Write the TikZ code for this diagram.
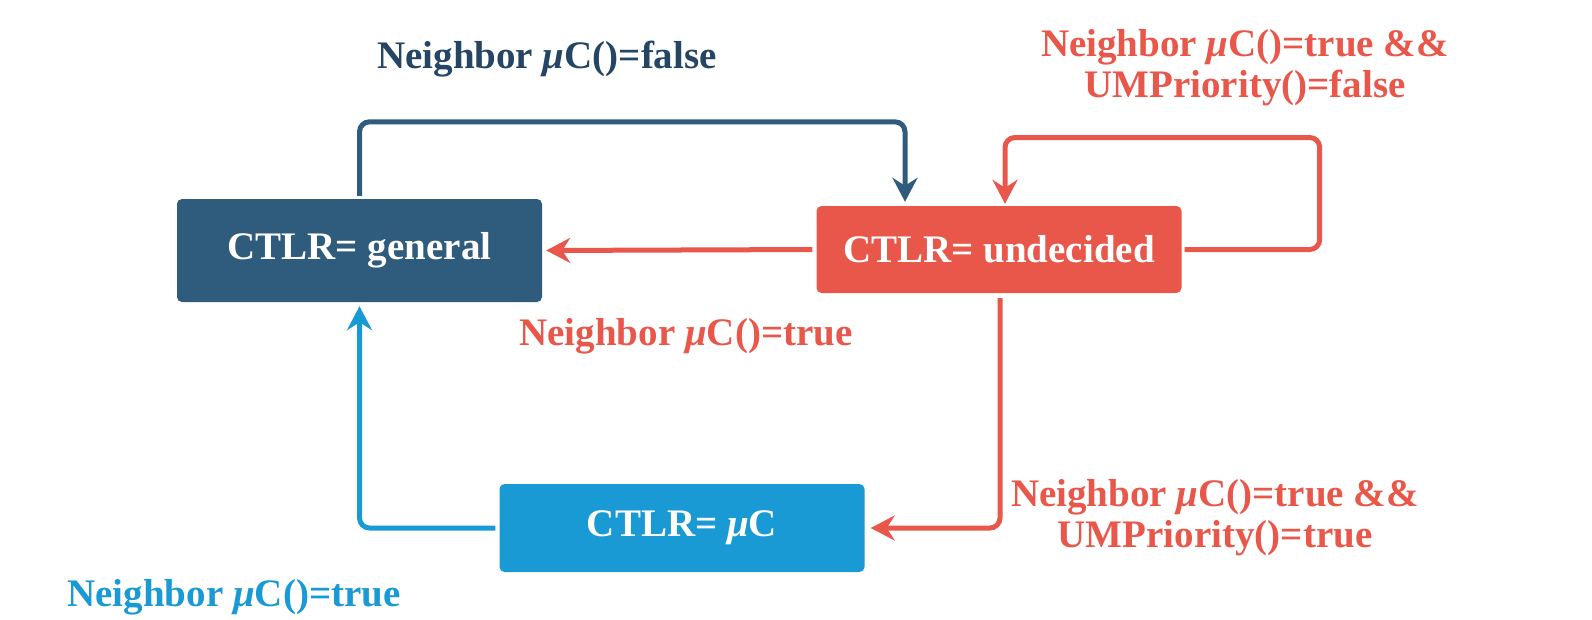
\documentclass[tikz,border=0pt]{standalone}
\usepackage{fontspec}
\setmainfont{Liberation Serif}
\usetikzlibrary{arrows.meta}
\definecolor{slateblue}{HTML}{2F5C7D}
\definecolor{slatetext}{HTML}{244564}
\definecolor{coral}{HTML}{E8574A}
\definecolor{skyblue}{HTML}{1A9AD4}

\newcommand{\mutxt}{\textit{μ}}

\begin{document}
\begin{tikzpicture}[x=1pt, y=-1pt,
    state/.style={rounded corners=5pt, inner sep=0pt, text=white,
        font=\fontsize{39}{41}\selectfont\bfseries, minimum width=365pt},
    flow/.style={line width=5pt,
        -{Stealth[length=24pt, width=25pt, inset=8pt]}},
    cond/.style={font=\fontsize{39}{41}\selectfont\bfseries,
        align=center, inner sep=0pt, anchor=base}
]
\useasboundingbox (0,0) rectangle (1592,619);

% --- STATES ---
\node[state, fill=slateblue, minimum height=103pt] (general) at (359.5,250.5) {CTLR= general};
\node[state, fill=coral, minimum height=87pt] (undecided) at (999,249.5) {CTLR= undecided};
\node[state, fill=skyblue, minimum height=88pt] (microc) at (682,528) {CTLR= \mutxt C};

% --- TRANSITIONS ---
\draw[flow, slateblue, shorten <=3pt, shorten >=4pt]
    (general.north) [rounded corners=10pt] -- ++(0,-77) -| ([xshift=-94pt]undecided.north);
\draw[flow, coral, shorten <=4pt, shorten >=4pt]
    (undecided.west) -- (general.east);
\draw[flow, coral, shorten <=3pt, shorten >=2pt]
    (undecided.east) [rounded corners=10pt] -- ++(138,0) -- ++(0,-112) -| ([xshift=6pt]undecided.north);
\draw[flow, coral, shorten <=5pt, shorten >=6pt]
    ([xshift=1pt]undecided.south) [rounded corners=10pt] |- (microc.east);
\draw[flow, skyblue, shorten <=4pt, shorten >=4pt]
    (microc.west) [rounded corners=10pt] -| (general.south);

% --- CONDITIONS ---
\node[cond, text=slatetext] (gofalse) at (547,68) {Neighbor \mutxt C()=false};
\node[cond, text=coral] (staytrue) at (1245,97) {Neighbor \mutxt C()=true \&\&\\UMPriority()=false};
\node[cond, text=coral] (gotrue) at (686,345) {Neighbor \mutxt C()=true};
\node[cond, text=coral] (tomicro) at (1215,547) {Neighbor \mutxt C()=true \&\&\\UMPriority()=true};
\node[cond, text=skyblue] (backtrue) at (234,606) {Neighbor \mutxt C()=true};

\end{tikzpicture}
\end{document}
